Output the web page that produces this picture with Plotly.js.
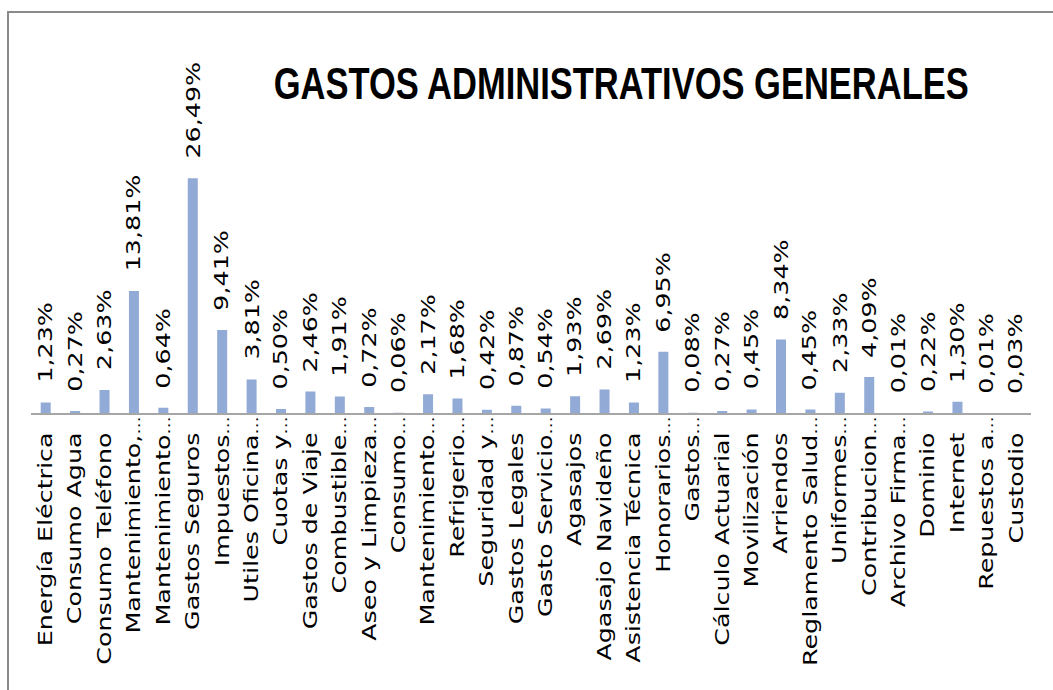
<!DOCTYPE html>
<html><head><meta charset="utf-8">
<script src="https://cdn.plot.ly/plotly-3.0.1.min.js"></script>
<style>
html,body{margin:0;padding:0;background:#fff;overflow:hidden;width:1053px;height:690px;}
#chart{position:absolute;left:0;top:0;width:1053px;height:531px;transform:scaleY(1.3);transform-origin:0 0;}
#frame{position:absolute;left:7px;top:11px;width:1200px;height:800px;border-top:2px solid #8a8a8a;border-left:2px solid #8a8a8a;background:transparent;}
</style></head><body>
<div id="chart"></div><div id="frame"></div>
<script>
const categories = ["Energía Eléctrica","Consumo Agua","Consumo Teléfono","Mantenimiento,…","Mantenimiento…","Gastos Seguros","Impuestos…","Utiles Oficina…","Cuotas y…","Gastos de Viaje","Combustible…","Aseo y Limpieza…","Consumo…","Mantenimiento…","Refrigerio…","Seguridad y…","Gastos Legales","Gasto Servicio…","Agasajos","Agasajo Navideño","Asistencia Técnica","Honorarios…","Gastos…","Cálculo Actuarial","Movilización","Arriendos","Reglamento Salud…","Uniformes…","Contribucion…","Archivo Firma…","Dominio","Internet","Repuestos a…","Custodio"];
const values = [1.23,0.27,2.63,13.81,0.64,26.49,9.41,3.81,0.50,2.46,1.91,0.72,0.06,2.17,1.68,0.42,0.87,0.54,1.93,2.69,1.23,6.95,0.08,0.27,0.45,8.34,0.45,2.33,4.09,0.01,0.22,1.30,0.01,0.03];
const valueLabels = ["1,23%","0,27%","2,63%","13,81%","0,64%","26,49%","9,41%","3,81%","0,50%","2,46%","1,91%","0,72%","0,06%","2,17%","1,68%","0,42%","0,87%","0,54%","1,93%","2,69%","1,23%","6,95%","0,08%","0,27%","0,45%","8,34%","0,45%","2,33%","4,09%","0,01%","0,22%","1,30%","0,01%","0,03%"];
const positions = categories.map((c,i)=>i);

// truncated labels: small ellipsis that sits in the gap under the axis, as in the reference
const tickText = categories.map(c => c.endsWith('…')
  ? c.slice(0,-1) + '<span style="font-size:14px">…</span>'
  : c + '\u00a0\u00a0');

const font = 'DejaVu Sans, Verdana, sans-serif';
const trace = {
  type:'bar', x:positions, y:values,
  marker:{color:'#92aad6', line:{width:0}},
  hoverinfo:'none'
};
const annotations = positions.map((p,i)=>({
  x:p, y:values[i], xref:'x', yref:'y', text:valueLabels[i], textangle:-90,
  showarrow:false, xanchor:'center', yanchor:'bottom', yshift:13,
  font:{family:font, size:19.5, color:'#000'}
}));
const layout = {
  width:1053, height:531,
  margin:{l:31, r:22, t:10, b:213},
  title:{text:'GASTOS ADMINISTRATIVOS GENERALES', xref:'container', yref:'container', x:0.59, xanchor:'center', y:0.88, yanchor:'middle',
    font:{family:'"Liberation Sans", Arial, sans-serif', size:34.5, color:'#000', weight:700}},
  xaxis:{range:[-0.5,33.5], tickmode:'array', tickvals:positions, ticktext:tickText, tickangle:-90,
    tickfont:{family:font, size:19.5, color:'#000'}, showline:true, linecolor:'#a6a6a6', linewidth:1.5,
    showgrid:false, zeroline:false, ticks:'', ticklabelstandoff:-7, automargin:false, fixedrange:true},
  yaxis:{range:[0,45.13], visible:false, fixedrange:true},
  bargap:0.66, showlegend:false, plot_bgcolor:'#fff', paper_bgcolor:'#fff',
  annotations:annotations
};
Plotly.newPlot('chart',[trace],layout,{displayModeBar:false, staticPlot:true});
</script>
</body></html>
